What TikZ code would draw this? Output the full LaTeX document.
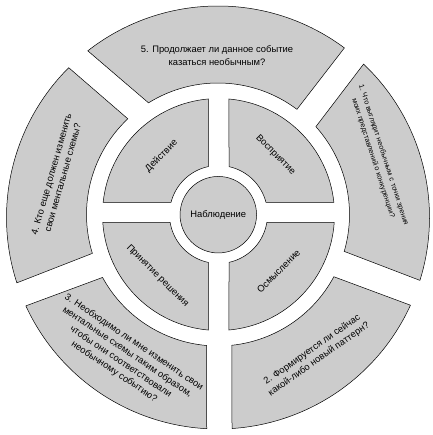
\documentclass[tikz,border=0pt]{standalone}
\usepackage{fontspec}
\setmainfont{Liberation Sans}
\usetikzlibrary{calc}
\definecolor{seggray}{RGB}{204,204,204}
\newcommand\ringseg[8]{% outer centre, R, a1, a2, inner centre, r, b1, b2
  \draw[segstyle] ($(#1)+(#3:#2)$) arc[start angle=#3, end angle=#4, radius=#2]
    -- ($(#5)+(#8:#6)$) arc[start angle=#8, end angle=#7, radius=#6] -- cycle;}
\begin{document}
\begin{tikzpicture}[x=1pt,y=1pt,
  segstyle/.style={fill=seggray, draw=black, line width=0.5pt},
  maintext/.style={font=\fontsize{9.4}{11.8}\selectfont, align=center, inner sep=0pt},
  smalltext/.style={font=\fontsize{7.3}{10.8}\selectfont, align=center, inner sep=0pt}]
\useasboundingbox (0,0) rectangle (432,435);
\coordinate (Co) at (218,217.5);
\coordinate (Ci) at (218,220.5);
\coordinate (Cm) at (218.5,220.5);
% outer ring
\ringseg{Co}{211.5}{53.3}{128.0}{Ci}{131.5}{53.1}{121.9}
\ringseg{Co}{211.5}{134.9}{198.0}{Ci}{131.5}{133.3}{197.2}
\ringseg{Co}{211.5}{204.7}{266.95}{Ci}{131.5}{208.6}{265.0}
\ringseg{Co}{211.5}{-86.2}{-24.5}{Ci}{131.5}{-84.0}{-28.25}
\ringseg{Co}{211.5}{-17.3}{46.5}{Ci}{131.5}{-16.3}{41.9}
% middle ring
\ringseg{Cm}{116}{95.04}{173.96}{Cm}{49}{102.01}{165.58}
\ringseg{Cm}{116}{6.04}{84.81}{Cm}{49}{14.42}{77.63}
\ringseg{Cm}{116}{-84.81}{-3.86}{Cm}{49}{-77.63}{-9.16}
\ringseg{Cm}{116}{183.86}{264.96}{Cm}{49}{189.16}{257.99}
% centre
\node[circle, fill=seggray, draw=black, line width=0.5pt, minimum size=76.5pt, inner sep=0pt,
  font=\fontsize{9.4}{11.8}\selectfont] (obs) at (218.3,220.3) {Наблюдение};
% quadrant labels
\node[maintext, rotate=45] (act) at (161.5,279) {Действие};
\node[maintext, rotate=-45] (perc) at (275.5,280) {Восприятие};
\node[maintext, rotate=45] (sense) at (278.5,164) {Осмысление};
\node[maintext, rotate=-45] (dec) at (157.5,159) {Принятие решения};
% outer labels
\node[maintext, font=\fontsize{9.4}{13}\selectfont] (q5) at (217,379) {5. Продолжает ли данное событие\\казаться необычным?};
\node[smalltext, rotate=-72] (q1) at (378.3,278.5) {1. Что выглядит необычным с точки зрения\\моих представлений о конкуренции?};
\node[maintext, rotate=35] (q2) at (315.5,80.5) {2. Формируется ли сейчас\\какой-либо новый паттерн?};
\node[maintext, rotate=-34] (q3) at (124,78) {3. Необходимо ли мне изменить свои\\ментальные схемы таким образом,\\чтобы они соответствовали\\необычному событию?};
\node[maintext, rotate=74] (q4) at (57,259) {4. Кто еще должен изменить\\свои ментальные схемы?};
\end{tikzpicture}
\end{document}
